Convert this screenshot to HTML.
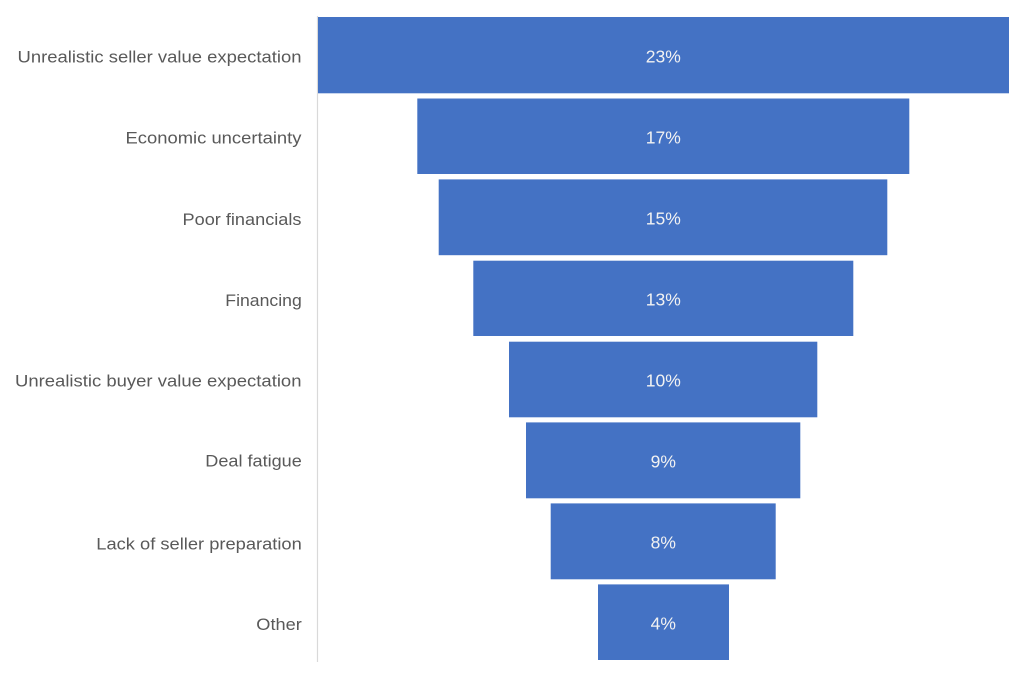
<!DOCTYPE html>
<html>
<head>
<meta charset="utf-8">
<style>
  html, body { margin: 0; padding: 0; background: #ffffff; }
  svg { display: block; }
  .lbl { font-family: "Liberation Sans", sans-serif; font-size: 17px; fill: #595959; }
  .pct { font-family: "Liberation Sans", sans-serif; font-size: 17.5px; fill: #f2f2f2; }
</style>
</head>
<body>
<svg width="1024" height="678" viewBox="0 0 1024 678" xmlns="http://www.w3.org/2000/svg">
  <rect x="0" y="0" width="1024" height="678" fill="#ffffff"/>
  <!-- axis line -->
  <line x1="317.5" y1="16" x2="317.5" y2="662" stroke="#d9d9d9" stroke-width="1.2"/>

  <!-- bars -->
  <g fill="#4472C4">
    <rect x="318" y="17" width="691" height="76.3"/>
    <rect x="417.3" y="98.5" width="492" height="75.5"/>
    <rect x="438.7" y="179.4" width="448.6" height="75.8"/>
    <rect x="473.3" y="260.7" width="380" height="75.3"/>
    <rect x="509" y="341.7" width="308.3" height="75.6"/>
    <rect x="526" y="422.4" width="274.3" height="75.9"/>
    <rect x="550.7" y="503.4" width="225" height="75.9"/>
    <rect x="598" y="584.4" width="131" height="75.6"/>
  </g>

  <!-- category labels -->
  <text class="lbl" x="301.5" y="62.3" text-anchor="end" textLength="284" lengthAdjust="spacingAndGlyphs">Unrealistic seller value expectation</text>
  <text class="lbl" x="301.5" y="143.3" text-anchor="end" textLength="176" lengthAdjust="spacingAndGlyphs">Economic uncertainty</text>
  <text class="lbl" x="301.5" y="225" text-anchor="end" textLength="119" lengthAdjust="spacingAndGlyphs">Poor financials</text>
  <text class="lbl" x="301.8" y="306" text-anchor="end" textLength="76.5" lengthAdjust="spacingAndGlyphs">Financing</text>
  <text class="lbl" x="301.5" y="386.7" text-anchor="end" textLength="286.5" lengthAdjust="spacingAndGlyphs">Unrealistic buyer value expectation</text>
  <text class="lbl" x="301.8" y="466.7" text-anchor="end" textLength="96.5" lengthAdjust="spacingAndGlyphs">Deal fatigue</text>
  <text class="lbl" x="301.8" y="549.3" text-anchor="end" textLength="205.5" lengthAdjust="spacingAndGlyphs">Lack of seller preparation</text>
  <text class="lbl" x="301.8" y="630" text-anchor="end" textLength="45.5" lengthAdjust="spacingAndGlyphs">Other</text>

  <!-- value labels -->
  <text class="pct" x="663.3" y="62.5" text-anchor="middle">23%</text>
  <text class="pct" x="663.3" y="143.5" text-anchor="middle">17%</text>
  <text class="pct" x="663.3" y="224.5" text-anchor="middle">15%</text>
  <text class="pct" x="663.3" y="305.6" text-anchor="middle">13%</text>
  <text class="pct" x="663.3" y="386.6" text-anchor="middle">10%</text>
  <text class="pct" x="663.3" y="467.6" text-anchor="middle">9%</text>
  <text class="pct" x="663.3" y="548.6" text-anchor="middle">8%</text>
  <text class="pct" x="663.3" y="629.6" text-anchor="middle">4%</text>
</svg>
</body>
</html>
